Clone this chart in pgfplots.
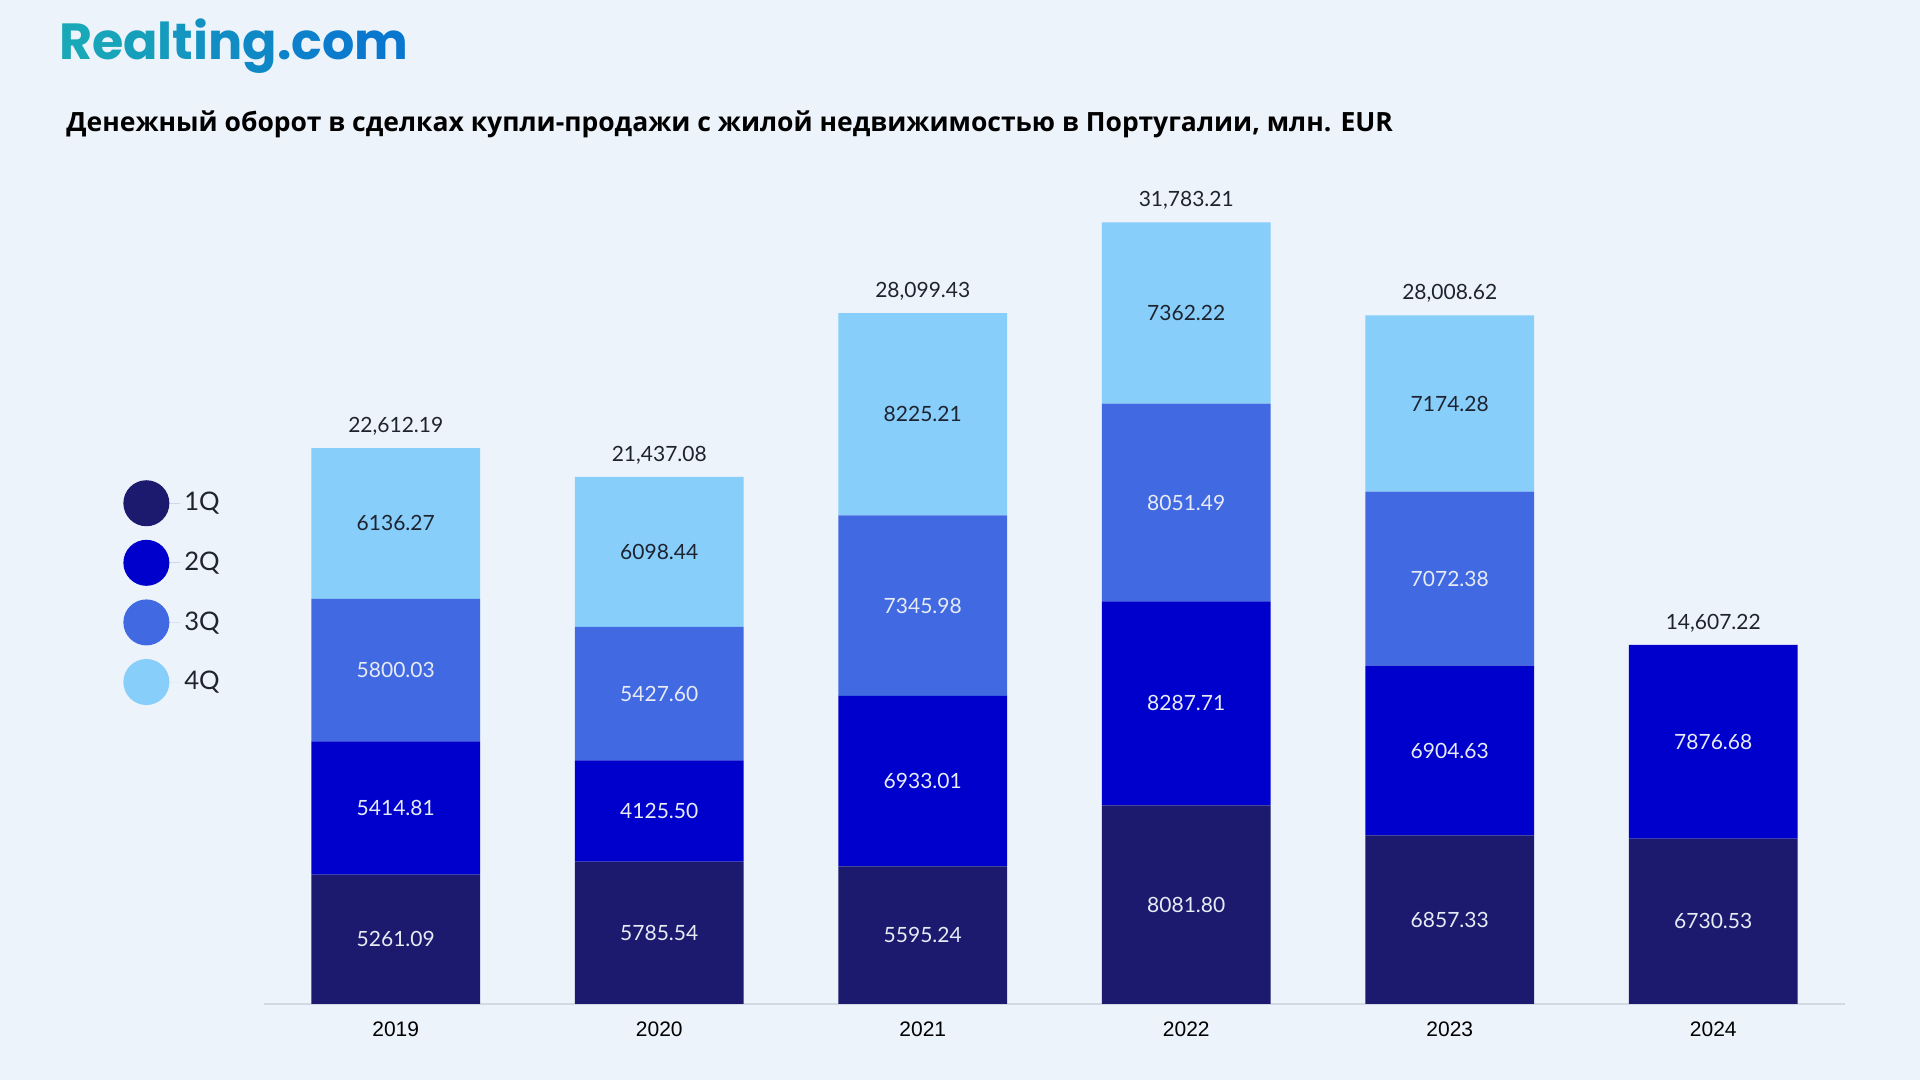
\documentclass[border=0pt]{standalone}
\usepackage{pgfplots}
\pgfplotsset{compat=1.18}
\usepackage{pgfplotstable}
\usepackage{fontspec}
\setmainfont{Lato}
\newfontfamily\titlefont{Open Sans}
\newfontfamily\logofont{Poppins}
\newfontfamily\yearfont{Liberation Sans}
\definecolor{bg}{HTML}{EDF3FB}
\definecolor{qa}{HTML}{1B1A6E}
\definecolor{qb}{HTML}{0000CD}
\definecolor{qc}{HTML}{4169E1}
\definecolor{qd}{HTML}{87CEFA}
\definecolor{txt}{HTML}{1E2330}
\definecolor{inlab}{HTML}{E6EBF5}
\definecolor{baseline}{HTML}{D3D9E2}
\definecolor{la}{HTML}{19A8B7}
\definecolor{lb}{HTML}{0A77CF}

\pgfplotstableread{
x q1 q2 q3 q4 tot totlab
0 5261.09 5414.81 5800.03 6136.27 22612.19 22,612.19
1 5785.54 4125.50 5427.60 6098.44 21437.08 21,437.08
2 5595.24 6933.01 7345.98 8225.21 28099.43 28,099.43
3 8081.80 8287.71 8051.49 7362.22 31783.21 31,783.21
4 6857.33 6904.63 7072.38 7174.28 28008.62 28,008.62
5 6730.53 7876.68 0 0 14607.22 14,607.22
}\data

\pgfplotsset{
  common/.style={
    at={(132pt,38pt)}, anchor=south west,
    scale only axis, width=790.5pt, height=418pt,
    xmin=-0.5, xmax=5.5, ymin=0, ymax=34000,
    clip=false,
  },
  lab/.style={draw=none, nodes near coords, point meta=explicit symbolic,
    every node near coord/.style={anchor=center, font=\fontsize{10.5}{12}\selectfont, text=#1}},
}

\begin{document}
\begin{tikzpicture}
\useasboundingbox (0,0) rectangle (960pt,540pt);
\fill[bg] (0,0) rectangle (960pt,540pt);

\node[anchor=base west, inner sep=0pt] at (29.3pt,510pt) {\logofont\bfseries\fontsize{25.4}{28}\selectfont
\textcolor{la}{R}\textcolor{lb!9!la}{e}\textcolor{lb!18!la}{a}\textcolor{lb!27!la}{l}\textcolor{lb!36!la}{t}\textcolor{lb!45!la}{i}\textcolor{lb!55!la}{n}\textcolor{lb!64!la}{g}\textcolor{lb!73!la}{.}\textcolor{lb!82!la}{c}\textcolor{lb!91!la}{o}\textcolor{lb}{m}};

\node[anchor=base west, inner sep=0pt] at (33pt,474pt) {\titlefont\bfseries\fontsize{13.25}{15}\selectfont\color{black}Денежный оборот в сделках купли-продажи с жилой недвижимостью в Португалии, млн. EUR};

\begin{axis}[common,
  ybar stacked, bar width=0.64,
  axis x line*=bottom, axis y line=none,
  x axis line style={draw=baseline, line width=1pt, -},
  xtick={0,1,2,3,4,5},
  xticklabels={2019,2020,2021,2022,2023,2024},
  major tick length=0pt,
  xticklabel style={anchor=base, yshift=-16.25pt, font=\yearfont\fontsize{10.5}{12}\selectfont, text=black},
  ytick=\empty,
  legend style={at={(-0.0892,0.627)}, anchor=north west, draw=none, fill=none, inner sep=0pt,
    row sep=6.8pt, cells={anchor=west}, font=\fontsize{12.8}{14}\selectfont, text=txt},
  legend image code/.code={\fill[#1] (11.5pt,0pt) circle (11.5pt); \path (0pt,0pt) -- (28.5pt,0pt);},
]
\addplot[fill=qa, draw=none] table[x=x, y=q1]{\data};
\addplot[fill=qb, draw=none] table[x=x, y=q2]{\data};
\addplot[fill=qc, draw=none] table[x=x, y=q3]{\data};
\addplot[fill=qd, draw=none] table[x=x, y=q4]{\data};
\legend{1Q,2Q,3Q,4Q}
\end{axis}

\begin{axis}[common, hide axis]
\addplot[lab=inlab] table[x=x, y expr=\thisrow{q1}/2, meta=q1]{\data};
\addplot[lab=inlab] table[x=x, y expr=\thisrow{q1}+\thisrow{q2}/2, meta=q2]{\data};
\addplot[lab=inlab, skip coords between index={5}{6}] table[x=x, y expr=\thisrow{q1}+\thisrow{q2}+\thisrow{q3}/2, meta=q3]{\data};
\addplot[lab=txt, skip coords between index={5}{6}] table[x=x, y expr=\thisrow{q1}+\thisrow{q2}+\thisrow{q3}+\thisrow{q4}/2, meta=q4]{\data};
\addplot[draw=none, nodes near coords, point meta=explicit symbolic,
  every node near coord/.style={anchor=base, yshift=7.75pt, font=\fontsize{10.5}{12}\selectfont, text=txt}]
  table[x=x, y=tot, meta=totlab]{\data};
\end{axis}
\end{tikzpicture}
\end{document}
